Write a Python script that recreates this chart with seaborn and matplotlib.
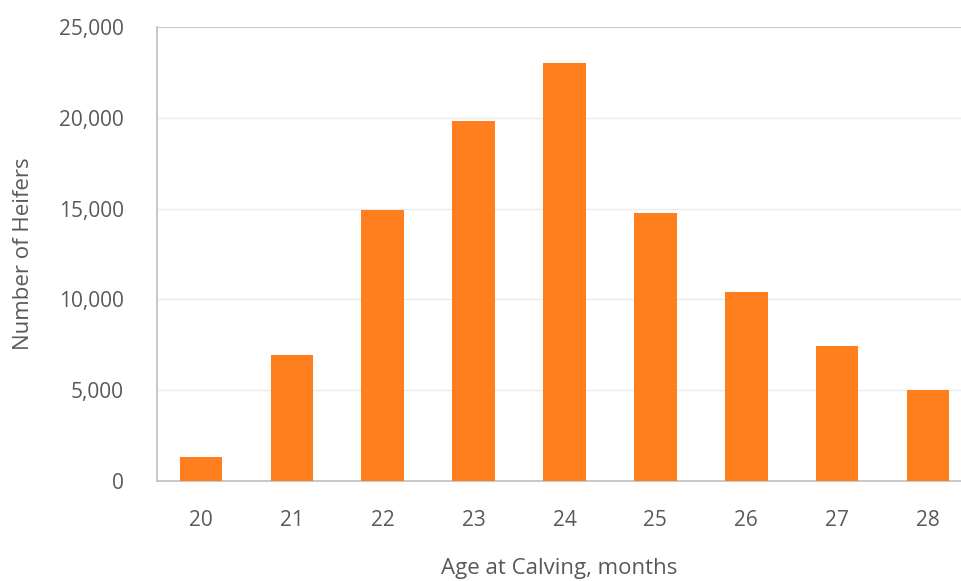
import matplotlib
matplotlib.use("Agg")
import matplotlib.pyplot as plt
import seaborn as sns
import pandas as pd
from matplotlib.ticker import FuncFormatter

ages = ["20", "21", "22", "23", "24", "25", "26", "27", "28"]
heifers = [1300, 6950, 14900, 19800, 23000, 14750, 10400, 7450, 5000]
yticks = [0, 5000, 10000, 15000, 20000, 25000]

sns.set_style("white")
plt.rcParams['font.family'] = ['Open Sans', 'DejaVu Sans']

df = pd.DataFrame({"age": ages, "n": heifers})
fig = plt.figure(figsize=(9.62, 5.81), dpi=100)
ax = fig.add_axes([157/962, 100/581, 1 - 157/962, 454/581])
sns.barplot(data=df, x="age", y="n", color="#FF7F1E", width=0.47,
            saturation=1, ax=ax, zorder=3, edgecolor="none")
ax.set_ylim(0, 25000)
ax.set_xlim(-0.484, 8.374)
ax.set_yticks(yticks)
ax.yaxis.set_major_formatter(FuncFormatter(lambda v, p: f"{int(v):,}"))
ax.grid(axis="y", color="#EBEBEB", linewidth=1, zorder=0)
for s in ["top", "right"]:
    ax.spines[s].set_visible(False)
for s in ["left", "bottom"]:
    ax.spines[s].set_color("#BFBFBF")
    ax.spines[s].set_linewidth(1.2)
ax.axhline(25000, color="#C8C8C8", linewidth=1.2, zorder=1)
ax.tick_params(axis="both", length=0, labelsize=15, colors="#595959")
ax.tick_params(axis="y", pad=24)
ax.tick_params(axis="x", pad=21)
ax.set_xlabel("Age at Calving, months", fontsize=16, color="#595959", labelpad=19)
ax.set_ylabel("Number of Heifers", fontsize=16, color="#595959", labelpad=18)
fig.savefig("out.png", dpi=100)
